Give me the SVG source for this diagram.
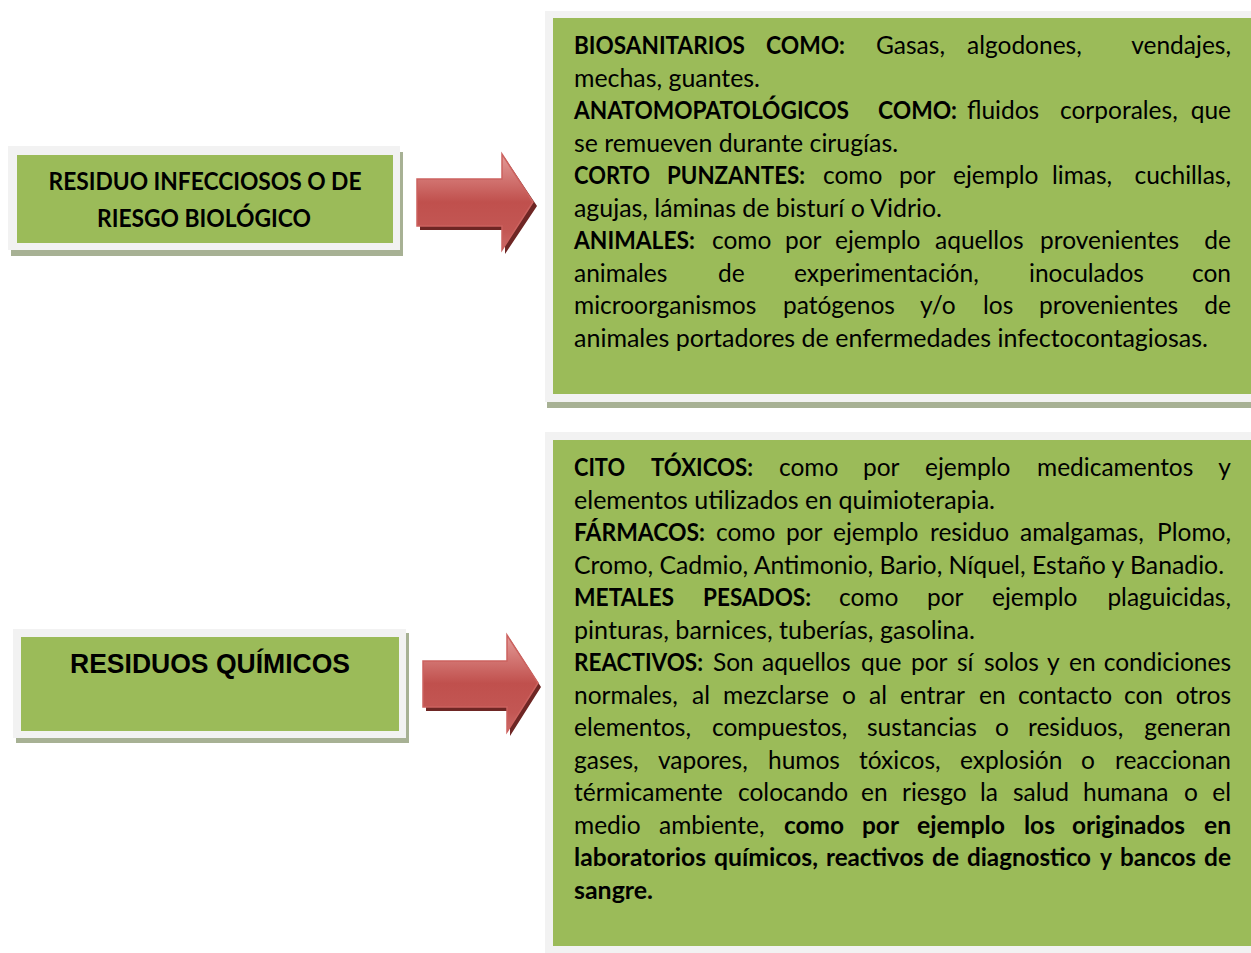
<svg xmlns="http://www.w3.org/2000/svg" width="1251" height="953" viewBox="0 0 1251 953">
<style>
.frame{fill:#f2f2f2}
.green{fill:#9bbb59}
.shadow{fill:#a7b194}
.t{font-family:Lato,"Open Sans","Liberation Sans",sans-serif;font-size:24.5px;fill:#000}
.b{font-family:Lato,"Open Sans","Liberation Sans",sans-serif;font-size:24.5px;font-weight:bold;fill:#000}
.lt{font-family:Lato,"Open Sans","Liberation Sans",sans-serif;font-size:24px;font-weight:bold;fill:#000;text-anchor:middle}
.ar{font-family:"Liberation Sans",Arial,sans-serif;font-size:27px;font-weight:bold;fill:#000}
.e{text-anchor:end}
.arrow{fill:url(#ag);stroke:#cc625f;stroke-width:1.5}
.ashadow{fill:#6e2624}
</style>
<defs>
<linearGradient id="ag" x1="0" y1="0" x2="0" y2="1">
<stop offset="0" stop-color="#e39c99"/>
<stop offset="0.3" stop-color="#cf6e6b"/>
<stop offset="0.5" stop-color="#c0504d"/>
<stop offset="0.8" stop-color="#c35754"/>
<stop offset="1" stop-color="#cd6b68"/>
</linearGradient>
</defs>
<rect width="1251" height="953" fill="#ffffff"/>

<g id="node-infecciosos">
<rect class="shadow" x="11" y="152" width="392" height="104"/>
<rect class="frame" x="8" y="146" width="392" height="104"/>
<rect class="green" x="17" y="155" width="376" height="88"/>
<text class="lt" x="205" y="190" textLength="313" lengthAdjust="spacingAndGlyphs">RESIDUO INFECCIOSOS O DE</text>
<text class="lt" x="204" y="227" textLength="214" lengthAdjust="spacingAndGlyphs">RIESGO BIOLÓGICO</text>
</g>

<g id="node-quimicos">
<rect class="shadow" x="16" y="633" width="393" height="110"/>
<rect class="frame" x="13" y="629" width="393" height="109"/>
<rect class="green" x="21" y="637" width="378" height="94"/>
<text class="ar" x="70" y="673" textLength="280" lengthAdjust="spacingAndGlyphs">RESIDUOS QUÍMICOS</text>
</g>

<g id="connectors">
<polygon class="ashadow" points="420,183 505,183 505,158 537,206 505,254 505,230 420,230"/>
<polygon class="arrow" points="417,179 502,179 502,154 533,202 502,250 502,226 417,226"/>
<polygon class="ashadow" points="426,665 510,665 510,639 541,687 510,736 510,711 426,711"/>
<polygon class="arrow" points="423,661 507,661 507,635 538,683 507,732 507,707 423,707"/>
</g>

<g id="node-biologicos">
<rect class="shadow" x="547" y="15" width="704" height="393"/>
<rect class="frame" x="545" y="11" width="706" height="391"/>
<rect class="green" x="553" y="18" width="698" height="376"/>
<text class="b" x="574" y="54" textLength="171" lengthAdjust="spacingAndGlyphs">BIOSANITARIOS</text>
<text class="b" x="766" y="54" textLength="79" lengthAdjust="spacingAndGlyphs">COMO:</text>
<text class="t" y="54"><tspan x="876">Gasas,</tspan><tspan x="967">algodones,</tspan></text>
<text class="t e" x="1231" y="54">vendajes,</text>
<text class="t" x="574" y="86.5" textLength="186" lengthAdjust="spacingAndGlyphs">mechas, guantes.</text>
<text class="b" x="574" y="119" textLength="275" lengthAdjust="spacingAndGlyphs">ANATOMOPATOLÓGICOS</text>
<text class="b" x="878" y="119" textLength="79" lengthAdjust="spacingAndGlyphs">COMO:</text>
<text class="t" y="119"><tspan x="967">fluidos</tspan><tspan x="1060">corporales,</tspan></text>
<text class="t e" x="1231" y="119">que</text>
<text class="t" x="574" y="151.5" textLength="324" lengthAdjust="spacingAndGlyphs">se remueven durante cirugías.</text>
<text class="b" x="574" y="184" textLength="76" lengthAdjust="spacingAndGlyphs">CORTO</text>
<text class="b" x="667" y="184" textLength="138" lengthAdjust="spacingAndGlyphs">PUNZANTES:</text>
<text class="t" y="184"><tspan x="823">como</tspan><tspan x="899">por</tspan><tspan x="953">ejemplo</tspan><tspan x="1052">limas,</tspan></text>
<text class="t e" x="1231" y="184">cuchillas,</text>
<text class="t" x="574" y="216.5" textLength="368" lengthAdjust="spacingAndGlyphs">agujas, láminas de bisturí o Vidrio.</text>
<text class="b" x="574" y="249" textLength="121" lengthAdjust="spacingAndGlyphs">ANIMALES:</text>
<text class="t" y="249"><tspan x="712">como</tspan><tspan x="785">por</tspan><tspan x="835">ejemplo</tspan><tspan x="935">aquellos</tspan><tspan x="1040">provenientes</tspan></text>
<text class="t e" x="1231" y="249">de</text>
<text class="t" y="281.5"><tspan x="574">animales</tspan><tspan x="718">de</tspan><tspan x="794">experimentación,</tspan><tspan x="1029">inoculados</tspan></text>
<text class="t e" x="1231" y="281.5">con</text>
<text class="t" y="314"><tspan x="574">microorganismos</tspan><tspan x="783">patógenos</tspan><tspan x="920">y/o</tspan><tspan x="983">los</tspan><tspan x="1039">provenientes</tspan></text>
<text class="t e" x="1231" y="314">de</text>
<text class="t" x="574" y="346.5" textLength="634" lengthAdjust="spacingAndGlyphs">animales portadores de enfermedades infectocontagiosas.</text>
</g>

<g id="node-quimicos-detalle">
<rect class="frame" x="545" y="432" width="706" height="521"/>
<rect class="green" x="553" y="440" width="698" height="506"/>
<text class="b" x="574" y="476" textLength="51" lengthAdjust="spacingAndGlyphs">CITO</text>
<text class="b" x="651" y="476" textLength="102" lengthAdjust="spacingAndGlyphs">TÓXICOS:</text>
<text class="t" y="476"><tspan x="779">como</tspan><tspan x="863">por</tspan><tspan x="925">ejemplo</tspan><tspan x="1037">medicamentos</tspan></text>
<text class="t e" x="1231" y="476">y</text>
<text class="t" x="574" y="508.5" textLength="421" lengthAdjust="spacingAndGlyphs">elementos utilizados en quimioterapia.</text>
<text class="b" x="574" y="541" textLength="131" lengthAdjust="spacingAndGlyphs">FÁRMACOS:</text>
<text class="t" y="541"><tspan x="716">como</tspan><tspan x="786">por</tspan><tspan x="833">ejemplo</tspan><tspan x="930">residuo</tspan><tspan x="1020">amalgamas,</tspan></text>
<text class="t e" x="1231" y="541">Plomo,</text>
<text class="t" x="574" y="573.5" textLength="650" lengthAdjust="spacingAndGlyphs">Cromo, Cadmio, Antimonio, Bario, Níquel, Estaño y Banadio.</text>
<text class="b" x="574" y="606" textLength="100" lengthAdjust="spacingAndGlyphs">METALES</text>
<text class="b" x="703" y="606" textLength="108" lengthAdjust="spacingAndGlyphs">PESADOS:</text>
<text class="t" y="606"><tspan x="839">como</tspan><tspan x="927">por</tspan><tspan x="992">ejemplo</tspan></text>
<text class="t e" x="1231" y="606">plaguicidas,</text>
<text class="t" x="574" y="638.5" textLength="401" lengthAdjust="spacingAndGlyphs">pinturas, barnices, tuberías, gasolina.</text>
<text class="b" x="574" y="671" textLength="129" lengthAdjust="spacingAndGlyphs">REACTIVOS:</text>
<text class="t" y="671"><tspan x="713">Son</tspan><tspan x="762">aquellos</tspan><tspan x="861">que</tspan><tspan x="911">por</tspan><tspan x="957">sí</tspan><tspan x="984">solos</tspan><tspan x="1047">y</tspan><tspan x="1069">en</tspan></text>
<text class="t e" x="1231" y="671">condiciones</text>
<text class="t" y="703.5"><tspan x="574">normales,</tspan><tspan x="692">al</tspan><tspan x="723">mezclarse</tspan><tspan x="842">o</tspan><tspan x="869">al</tspan><tspan x="900">entrar</tspan><tspan x="979">en</tspan><tspan x="1018">contacto</tspan><tspan x="1124">con</tspan></text>
<text class="t e" x="1231" y="703.5">otros</text>
<text class="t" y="736"><tspan x="574">elementos,</tspan><tspan x="712">compuestos,</tspan><tspan x="867">sustancias</tspan><tspan x="995">o</tspan><tspan x="1028">residuos,</tspan></text>
<text class="t e" x="1231" y="736">generan</text>
<text class="t" y="768.5"><tspan x="574">gases,</tspan><tspan x="658">vapores,</tspan><tspan x="768">humos</tspan><tspan x="859">tóxicos,</tspan><tspan x="960">explosión</tspan><tspan x="1081">o</tspan></text>
<text class="t e" x="1231" y="768.5">reaccionan</text>
<text class="t" y="801"><tspan x="574">térmicamente</tspan><tspan x="738">colocando</tspan><tspan x="861">en</tspan><tspan x="902">riesgo</tspan><tspan x="980">la</tspan><tspan x="1013">salud</tspan><tspan x="1083">humana</tspan><tspan x="1184">o</tspan></text>
<text class="t e" x="1231" y="801">el</text>
<text class="t" y="833.5"><tspan x="574">medio</tspan><tspan x="659">ambiente,</tspan></text>
<text class="b" x="784" y="833.5" textLength="60" lengthAdjust="spacingAndGlyphs">como</text>
<text class="b" x="862" y="833.5" textLength="37" lengthAdjust="spacingAndGlyphs">por</text>
<text class="b" x="917" y="833.5" textLength="88" lengthAdjust="spacingAndGlyphs">ejemplo</text>
<text class="b" x="1024" y="833.5" textLength="31" lengthAdjust="spacingAndGlyphs">los</text>
<text class="b" x="1072" y="833.5" textLength="113" lengthAdjust="spacingAndGlyphs">originados</text>
<text class="b" x="1204" y="833.5" textLength="27" lengthAdjust="spacingAndGlyphs">en</text>
<text class="b" x="574" y="866" textLength="132" lengthAdjust="spacingAndGlyphs">laboratorios</text>
<text class="b" x="714" y="866" textLength="104" lengthAdjust="spacingAndGlyphs">químicos,</text>
<text class="b" x="826" y="866" textLength="98" lengthAdjust="spacingAndGlyphs">reactivos</text>
<text class="b" x="932" y="866" textLength="27" lengthAdjust="spacingAndGlyphs">de</text>
<text class="b" x="967" y="866" textLength="124" lengthAdjust="spacingAndGlyphs">diagnostico</text>
<text class="b" x="1100" y="866" textLength="12" lengthAdjust="spacingAndGlyphs">y</text>
<text class="b" x="1120" y="866" textLength="76" lengthAdjust="spacingAndGlyphs">bancos</text>
<text class="b" x="1204" y="866" textLength="27" lengthAdjust="spacingAndGlyphs">de</text>
<text class="b" x="574" y="898.5" textLength="79" lengthAdjust="spacingAndGlyphs">sangre.</text>
</g>
</svg>
